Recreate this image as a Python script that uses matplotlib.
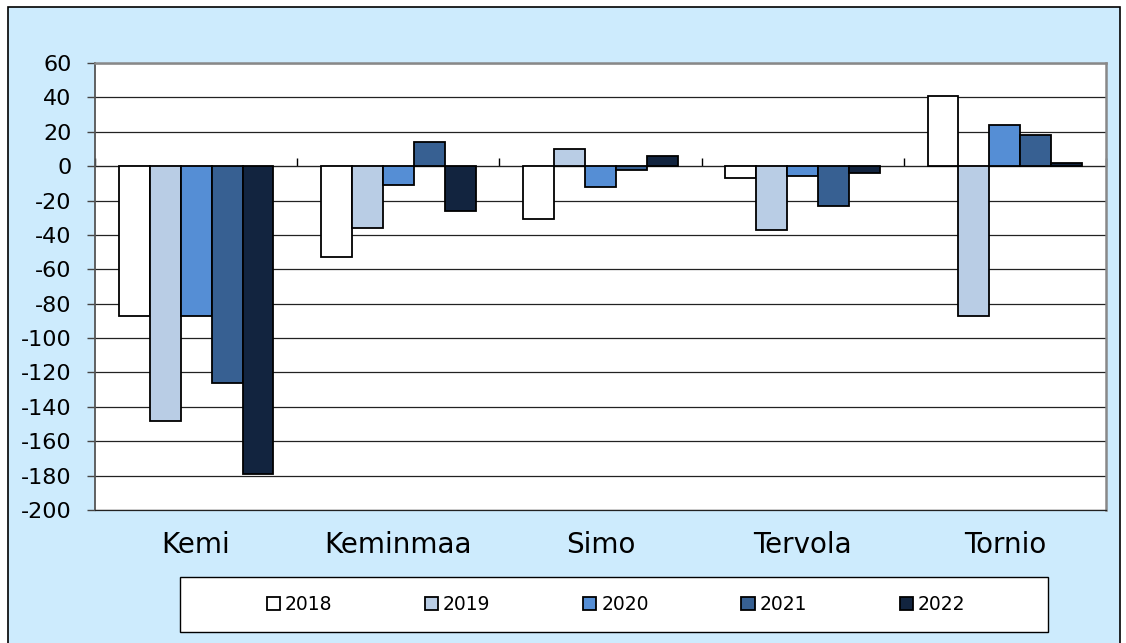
import matplotlib
matplotlib.use("Agg")
import matplotlib.pyplot as plt
import numpy as np
from matplotlib.patches import Rectangle

categories = ["Kemi", "Keminmaa", "Simo", "Tervola", "Tornio"]
years = ["2018", "2019", "2020", "2021", "2022"]
v2018 = [-87, -53, -31, -7, 41]
v2019 = [-148, -36, 10, -37, -87]
v2020 = [-87, -11, -12, -6, 24]
v2021 = [-126, 14, -2, -23, 18]
v2022 = [-179, -26, 6, -4, 2]
series = [v2018, v2019, v2020, v2021, v2022]
colors = ["#FFFFFF", "#B9CDE5", "#558ED5", "#376092", "#12243F"]
yticks = list(range(-200, 61, 20))

plt.rcParams['font.family'] = ['DejaVu Sans']

W, H = 1126, 643
fig = plt.figure(figsize=(W / 100, H / 100), dpi=100)
fig.patch.set_facecolor("white")
bg = Rectangle((8 / W, -0.01), (1120 - 8) / W, 1 - 7 / H + 0.01, transform=fig.transFigure,
               facecolor="#CDEBFD", edgecolor="black", linewidth=1.2, zorder=-10)
fig.patches.append(bg)

ax = fig.add_axes([95 / W, 1 - 510 / H, (1106 - 95) / W, (510 - 63) / H])
ax.set_zorder(1)
ax.set_facecolor("white")

x = np.arange(len(categories))
bw = 0.153
offsets = (np.arange(len(series)) - 2) * bw
for s, off, c, yr in zip(series, offsets, colors, years):
    ax.bar(x + off, s, width=bw, color=c, edgecolor="black", linewidth=1.3, label=yr, zorder=3)

ax.set_xlim(-0.5, len(categories) - 0.5)
ax.set_ylim(-200, 60)
ax.set_yticks(yticks)
ax.set_yticklabels([str(t) for t in yticks], fontsize=16)
ax.yaxis.grid(True, color="#222222", linewidth=0.9, zorder=0)
ax.set_axisbelow(True)
ax.tick_params(axis="y", direction="out", length=6, width=1, color="#444444", pad=11)

ax.set_xticks(x)
ax.set_xticklabels(categories, fontsize=20)
ax.tick_params(axis="x", length=0, pad=15)

for side in ["top", "right"]:
    ax.spines[side].set_color("#888888")
    ax.spines[side].set_linewidth(1.8)
ax.spines["left"].set_color("#555555")
ax.spines["left"].set_linewidth(1.3)
ax.spines["bottom"].set_color("#222222")
ax.spines["bottom"].set_linewidth(0.9)

# zero line with category separators
zero_frac = (0 - (-200)) / (60 - (-200))
sec = ax.secondary_xaxis(zero_frac)
sec.set_xticks(np.arange(len(categories) + 1) - 0.5)
sec.set_xticklabels([])
sec.tick_params(axis="x", direction="out", length=6, width=1, color="black")
sec.spines["bottom"].set_color("black")
sec.spines["bottom"].set_linewidth(1.2)

# legend frame
lf = Rectangle((180 / W, 1 - 632 / H), (1048 - 180) / W, 55 / H, transform=fig.transFigure,
               facecolor="white", edgecolor="black", linewidth=1.0, zorder=1)
fig.patches.append(lf)
handles, labels = ax.get_legend_handles_labels()
leg = fig.legend(handles, labels, loc="center", bbox_to_anchor=(616 / W, 1 - 604.5 / H),
                 ncol=5, fontsize=13.5, frameon=False,
                 handlelength=0.7, handleheight=0.7, handletextpad=0.25,
                 columnspacing=4.95)
leg.set_zorder(2)

fig.savefig("out.png", dpi=100, facecolor=fig.get_facecolor())
